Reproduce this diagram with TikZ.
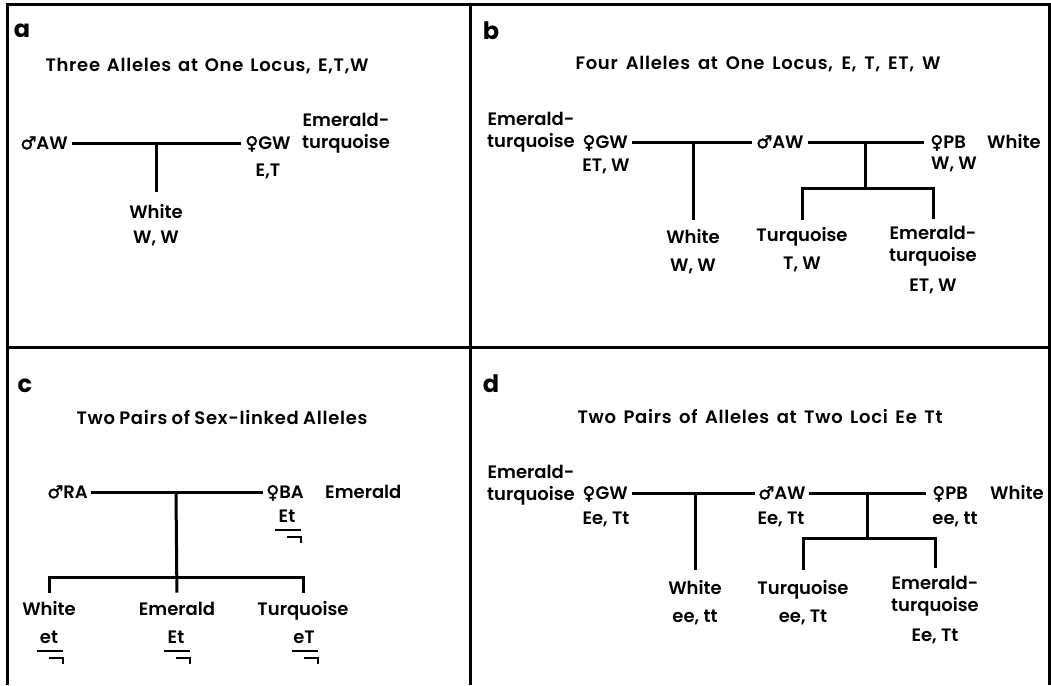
\documentclass[tikz,border=0pt]{standalone}
\usepackage{fontspec}
\usetikzlibrary{calc}
\newfontfamily\pf{Poppins SemiBold}
\newfontfamily\pft{Poppins SemiBold}[LetterSpace=4]
\newfontfamily\pfb{Poppins Bold}
\newfontfamily\symf{DejaVu Sans}[FakeBold=2]
\newcommand\symM{{\symf ♂}}
\newcommand\symF{{\symf ♀}}
\newcommand\ttltext[2]{\makebox[#1pt][s]{#2}}
\begin{document}
\begin{tikzpicture}[x=1pt,y=-1pt,
  txt/.style={font=\pf\fontsize{18}{22}\selectfont, inner sep=0pt, text height=12.5pt, text depth=0pt},
  ttl/.style={font=\pft\fontsize{18}{22}\selectfont, inner sep=0pt, text height=12.5pt, text depth=0pt},
  multi/.style={font=\pf\fontsize{18}{22}\selectfont, inner sep=0pt, align=center},
  plab/.style={font=\pfb\fontsize{24}{26}\selectfont, inner sep=0pt},
  ln/.style={line width=3pt, line join=miter},
  frame/.style={line width=3pt},
  bar/.style={line width=2pt}]
\useasboundingbox (0,0) rectangle (1051,685);
\newcommand\sexmark[1]{%
  \draw[bar] ($(#1.center)+(-12,14)$) -- +(26,0);
  \draw[bar] ($(#1.center)+(0,21)$) -- +(14,0) -- +(14,6);}
% frame
\draw[frame] (7,685) -- (7,5) -- (1049,5) -- (1049,685);
\draw[frame] (470,5) -- (470,685);
\draw[frame] (7,347) -- (1049,347);

% ---------- panel a
\node[plab] (la) at (22,31) {a};
\node[ttl] (ta) at (207,65) {\ttltext{323}{Three Alleles at One Locus, E,T,W}};
\node[txt, anchor=east] (aM) at (68,143) {\symM AW};
\node[txt, anchor=west] (aF) at (245,143) {\symF GW};
\node[txt] (aFg) at (268,170) {E,T};
\node[multi, anchor=west] (aFp) at (302,133) {Emerald-\\turquoise};
\coordinate (aJ) at (156,143);
\node[txt] (aC) at (156,212) {White};
\node[txt] (aCg) at (156,237) {W, W};
\draw[ln, shorten <=4pt, shorten >=4pt] (aM.east) -- (aF.west);
\draw[ln, shorten >=14pt] (aJ) -- (aC.north);

% ---------- panel b
\node[plab] (lb) at (491,31) {b};
\node[ttl] (tb) at (758,63) {\ttltext{365}{Four Alleles at One Locus, E, T, ET, W}};
\node[multi, anchor=east] (bFp) at (575,132) {Emerald-\\turquoise};
\node[txt, anchor=east] (bF1) at (628,142) {\symF GW};
\node[txt] (bF1g) at (606,165) {ET, W};
\node[txt, anchor=west] (bM) at (756,142) {\symM AW};
\node[txt, anchor=west] (bF2) at (930,142) {\symF PB};
\node[txt, anchor=west] (bF2p) at (987,142) {White};
\node[txt] (bF2g) at (954,163) {W, W};
\coordinate (bJ1) at (693,142);
\coordinate (bJ2) at (865,142);
\coordinate (bK) at (865,188);
\node[txt] (bC1) at (693,237) {White};
\node[txt] (bC1g) at (693,265) {W, W};
\node[txt] (bC2) at (802,235) {Turquoise};
\node[txt] (bC2g) at (802,263) {T, W};
\node[multi] (bC3) at (933,246) {Emerald-\\turquoise};
\node[txt] (bC3g) at (933,285) {ET, W};
\draw[ln, shorten <=4pt, shorten >=4pt] (bF1.east) -- (bM.west);
\draw[ln, shorten <=4pt, shorten >=6pt] (bM.east) -- (bF2.west);
\draw[ln, shorten >=11pt] (bJ1) -- (bC1.north);
\draw[ln] (bJ2) -- (bK);
\draw[ln, shorten <=9pt, shorten >=7pt] (bC2.north) |- (bK) -| (bC3.north);

% ---------- panel c
\node[plab] (lc) at (25,386) {c};
\node[ttl] (tc) at (222,418) {\ttltext{291}{Two Pairs of Sex-linked Alleles}};
\node[txt, anchor=east] (cM) at (88,492) {\symM RA};
\node[txt, anchor=west] (cF) at (266,492) {\symF BA};
\node[txt, anchor=west] (cFp) at (325,492) {Emerald};
\node[txt] (cFg) at (287,516) {Et};
\sexmark{cFg}
\coordinate (cJ) at (176,492);
\coordinate (cK) at (176,577);
\node[txt] (cC1) at (49,609) {White};
\node[txt] (cC1g) at (49,637) {et};
\node[txt] (cC2) at (177,609) {Emerald};
\node[txt] (cC2g) at (176,637) {Et};
\node[txt] (cC3) at (303,609) {Turquoise};
\node[txt] (cC3g) at (304,637) {eT};
\sexmark{cC1g}
\sexmark{cC2g}
\sexmark{cC3g}
\draw[ln, shorten <=3pt, shorten >=3pt] (cM.east) -- (cF.west);
\draw[ln, shorten >=10pt] (cJ) -- (cC2.north);
\draw[ln, shorten <=10pt, shorten >=10pt] (cC1.north) |- (cK) -| (cC3.north);

% ---------- panel d
\node[plab] (ld) at (491,384) {d};
\node[ttl] (td) at (760,417) {\ttltext{365}{Two Pairs of Alleles at Two Loci Ee Tt}};
\node[multi, anchor=east] (dFp) at (575,485) {Emerald-\\turquoise};
\node[txt, anchor=east] (dF1) at (628,493) {\symF GW};
\node[txt] (dF1g) at (606,518) {Ee, Tt};
\node[txt, anchor=west] (dM) at (758,493) {\symM AW};
\node[txt] (dMg) at (781,518) {Ee, Tt};
\node[txt, anchor=west] (dF2) at (932,493) {\symF PB};
\node[txt, anchor=west] (dF2p) at (990,493) {White};
\node[txt] (dF2g) at (955,518) {ee, tt};
\coordinate (dJ1) at (695,493);
\coordinate (dJ2) at (867,493);
\coordinate (dK) at (867,538);
\node[txt] (dC1) at (695,588) {White};
\node[txt] (dC1g) at (695,616) {ee, tt};
\node[txt] (dC2) at (803,588) {Turquoise};
\node[txt] (dC2g) at (803,616) {ee, Tt};
\node[multi] (dC3) at (935,596) {Emerald-\\turquoise};
\node[txt] (dC3g) at (935,635) {Ee, Tt};
\draw[ln, shorten <=4pt, shorten >=3pt] (dF1.east) -- (dM.west);
\draw[ln, shorten <=3pt, shorten >=6pt] (dM.east) -- (dF2.west);
\draw[ln, shorten >=12pt] (dJ1) -- (dC1.north);
\draw[ln] (dJ2) -- (dK);
\draw[ln, shorten <=12pt, shorten >=8pt] (dC2.north) |- (dK) -| (dC3.north);
\end{tikzpicture}
\end{document}
